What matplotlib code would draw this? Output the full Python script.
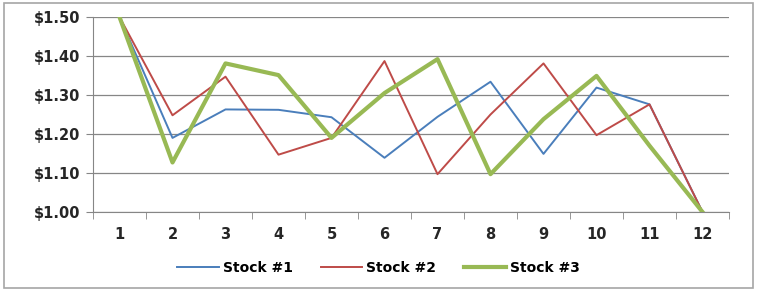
import matplotlib.pyplot as plt
from matplotlib.patches import Rectangle

# Data
periods = list(range(1, 13))
stock1 = [1.50, 1.19, 1.263, 1.262, 1.243, 1.139, 1.244, 1.334, 1.149, 1.319, 1.276, 1.00]
stock2 = [1.50, 1.248, 1.347, 1.147, 1.19, 1.387, 1.097, 1.25, 1.381, 1.197, 1.276, 1.00]
stock3 = [1.50, 1.127, 1.381, 1.351, 1.19, 1.305, 1.392, 1.097, 1.238, 1.349, 1.17, 1.00]
yticks = [1.00, 1.10, 1.20, 1.30, 1.40, 1.50]

fig = plt.figure(figsize=(7.57, 2.91), dpi=100)
fig.patches.append(Rectangle((0.005, 0.012), 0.99, 0.976, transform=fig.transFigure,
                             fill=False, edgecolor='#a6a6a6', linewidth=1.2))

ax = fig.add_axes([93 / 757, 1 - 212 / 291, (729 - 93) / 757, (212 - 17) / 291])

ax.plot(periods, stock1, color='#4a7ebb', lw=1.4, label='Stock #1')
ax.plot(periods, stock2, color='#be4b48', lw=1.4, label='Stock #2')
ax.plot(periods, stock3, color='#98b954', lw=3.0, label='Stock #3')

ax.set_xlim(0.5, 12.5)
ax.set_ylim(1.00, 1.50)
ax.set_yticks(yticks)
ax.set_yticklabels(['${:.2f}'.format(v) for v in yticks])
ax.set_xticks(periods)
ax.set_xticks([p + 0.5 for p in range(0, 13)], minor=True)
ax.tick_params(axis='x', which='major', length=0, pad=11)
ax.tick_params(axis='x', which='minor', length=5, direction='out', color='#868686')
ax.tick_params(axis='y', length=5, direction='out', color='#868686', pad=4)
for lab in ax.get_xticklabels() + ax.get_yticklabels():
    lab.set_fontweight('bold')
    lab.set_fontsize(10.5)
    lab.set_color('#262626')

ax.grid(axis='y', color='#868686', lw=0.9)
ax.set_axisbelow(True)
for s in ['top', 'right']:
    ax.spines[s].set_visible(False)
ax.spines['left'].set_color('#868686')
ax.spines['bottom'].set_color('#868686')

fig.legend(loc='center', bbox_to_anchor=(0.5, 1 - 268 / 291), ncol=3, frameon=False,
           prop={'weight': 'bold', 'size': 10}, handlelength=3.0, handletextpad=0.3,
           columnspacing=2.0)

fig.savefig('out.png', dpi=100)
